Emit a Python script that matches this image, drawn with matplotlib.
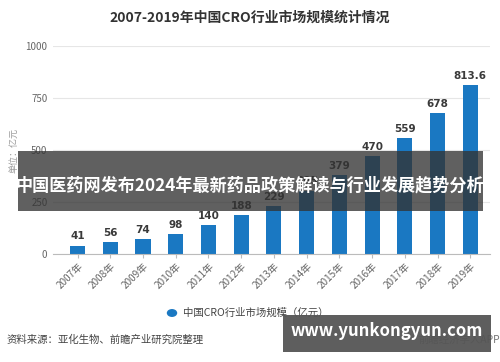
import matplotlib.pyplot as plt
from matplotlib.patches import Rectangle, Circle

plt.rcParams['font.family'] = ['Noto Sans CJK SC', 'DejaVu Sans']

years = ["2007年", "2008年", "2009年", "2010年", "2011年", "2012年", "2013年",
         "2014年", "2015年", "2016年", "2017年", "2018年", "2019年"]
values = [41, 56, 74, 98, 140, 188, 229, 305, 379, 470, 559, 678, 813.6]
value_labels = ["41", "56", "74", "98", "140", "188", "229", "305", "379",
                "470", "559", "678", "813.6"]
yticks = [0, 250, 500, 750, 1000]

bar_color = "#1a78c2"
text_gray = "#666666"

fig = plt.figure(figsize=(5.0, 3.62), dpi=100)
ax = fig.add_axes([0.106, 0.298, 0.874, 0.575])

x = list(range(len(years)))
ax.bar(x, values, width=0.46, color=bar_color, zorder=2)
for xi, v, lab in zip(x, values, value_labels):
    ax.annotate(lab, (xi, v), xytext=(0, 3), textcoords="offset points",
                ha="center", va="bottom", fontsize=7.5, fontweight="bold",
                color="#3a3a3a", family=["DejaVu Sans"])

ax.set_xlim(-0.75, 12.6)
ax.set_ylim(0, 1000)
ax.set_yticks(yticks)
ax.set_yticklabels([str(t) for t in yticks], fontsize=7, color=text_gray)
ax.yaxis.grid(True, color="#e6e6e6", linewidth=0.8, zorder=0)
ax.tick_params(axis="y", length=0, pad=4)
ax.set_xticks(x)
ax.set_xticklabels(years, rotation=45, ha="right", rotation_mode="anchor",
                   fontsize=7.2, color=text_gray)
ax.tick_params(axis="x", length=3, color="#bbbbbb", pad=2)
for s in ["top", "right", "left"]:
    ax.spines[s].set_visible(False)
ax.spines["bottom"].set_color("#bbbbbb")
ax.set_axisbelow(True)

fig.text(0.5, 0.95, "2007-2019年中国CRO行业市场规模统计情况", ha="center", va="center",
         fontsize=10, fontweight="bold", color="#333333")
fig.text(0.028, 0.585, "单位：亿元", rotation=90, ha="center", va="center",
         fontsize=6.5, color="#999999")

# legend
fig.patches.append(Circle((172 / 500, 1 - 313 / 362), 0.009, transform=fig.transFigure,
                          color=bar_color, figure=fig))
fig.text(183 / 500, 1 - 313 / 362, "中国CRO行业市场规模（亿元）", ha="left", va="center",
         fontsize=7.5, color="#444444")

fig.text(0.014, 1 - 340 / 362, "资料来源：亚化生物、前瞻产业研究院整理", ha="left", va="center",
         fontsize=7.5, color="#444444")
fig.text(1.0, 1 - 340 / 362, "前瞻经济学人APP", ha="right", va="center",
         fontsize=7.5, color="#777777")

# overlay banner
fig.patches.append(Rectangle((18 / 500, 1 - 211 / 362), 465 / 500, 60 / 362,
                             transform=fig.transFigure, facecolor="#333333",
                             alpha=0.78, edgecolor="none", figure=fig, zorder=5))
fig.text(250 / 500, 1 - 185 / 362, "中国医药网发布2024年最新药品政策解读与行业发展趋势分析",
         ha="center", va="center", fontsize=12.3, fontweight="bold", color="white",
         zorder=6)

# bottom-right watermark box
fig.patches.append(Rectangle((283 / 500, 1 - 352 / 362), 208 / 500, 37 / 362,
                             transform=fig.transFigure, facecolor="#555555",
                             alpha=0.95, edgecolor="none", figure=fig, zorder=5))
fig.text(387 / 500, 1 - 331 / 362, "www.yunkongyun.com", ha="center", va="center",
         fontsize=12, fontweight="bold", color="white", zorder=6)

fig.savefig("out.png", dpi=100)
